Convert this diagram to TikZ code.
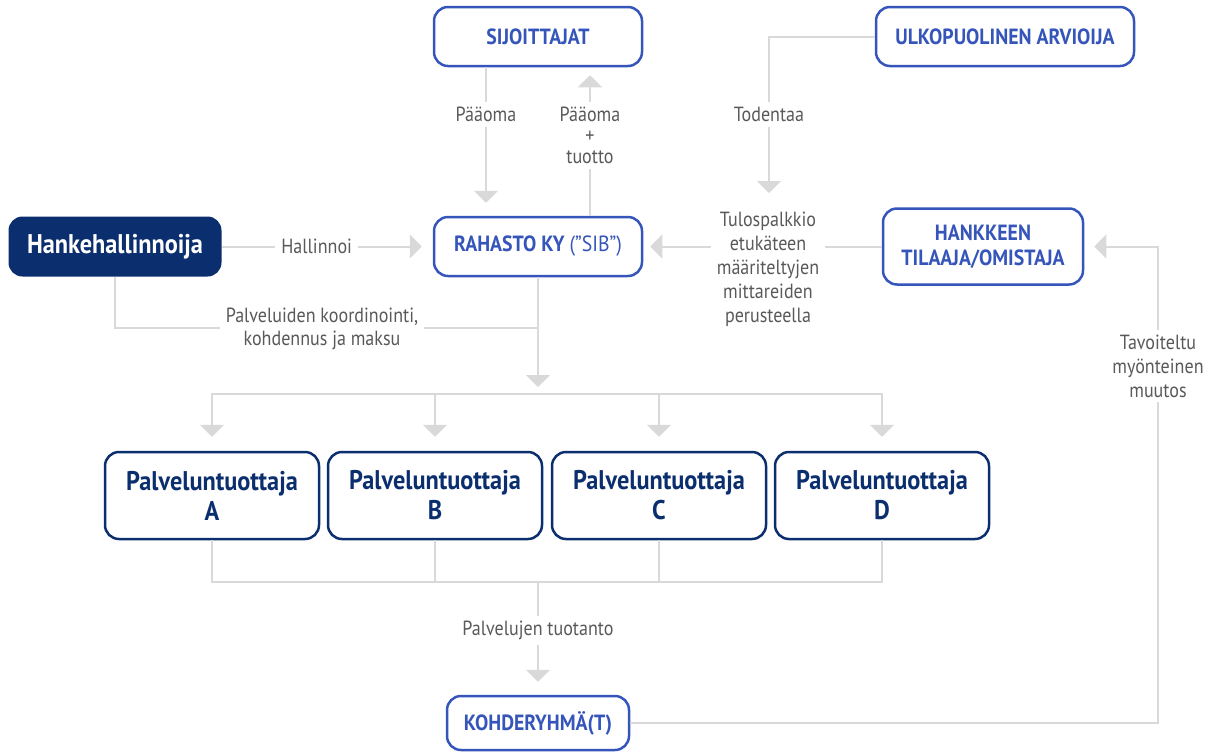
\documentclass[tikz,border=0pt]{standalone}
\usepackage{fontspec}
\setmainfont{PT Sans}[FakeStretch=0.88]
\newfontfamily\bfam{PT Sans}[FakeStretch=0.9]
\usetikzlibrary{arrows.meta}
\definecolor{bl}{HTML}{3555BA}
\definecolor{nv}{HTML}{0B2F6E}
\definecolor{ln}{HTML}{D9D9D9}
\definecolor{tx}{HTML}{595959}
\tikzset{
 bluebox/.style={draw=bl, line width=2.5pt, rounded corners=14pt, fill=white, text=bl, font=\bfam\fontsize{22}{25}\selectfont\bfseries, align=center, inner sep=0pt},
 navybox/.style={draw=nv, line width=2.5pt, rounded corners=14pt, fill=white, text=nv, font=\bfam\fontsize{27}{30}\selectfont\bfseries, align=center, inner sep=0pt, minimum width=214pt, minimum height=87pt},
 darkbox/.style={fill=nv, rounded corners=14pt, text=white, font=\bfam\fontsize{27}{30}\selectfont\bfseries, inner sep=0pt},
 conn/.style={draw=ln, line width=2pt},
 arr/.style={-{Triangle[width=24pt,length=12pt]}},
 lbl/.style={fill=white, text=tx, font=\fontsize{20.5}{24}\selectfont, align=center, inner xsep=6pt, inner ysep=5pt},
}
\begin{document}
\begin{tikzpicture}[x=1pt,y=-1pt]
\useasboundingbox (0,0) rectangle (1213,753);
% nodes
\node[darkbox, minimum width=213pt, minimum height=60pt] (hh) at (115,246.5) {Hankehallinnoija};
\node[bluebox, minimum width=208pt, minimum height=59pt] (rah) at (538,246.5) {RAHASTO KY {\mdseries(”SIB”)}};
\node[bluebox, minimum width=208pt, minimum height=59pt] (sij) at (538,36.5) {SIJOITTAJAT};
\node[bluebox, minimum width=258pt, minimum height=59pt] (ulk) at (1005,36.5) {ULKOPUOLINEN ARVIOIJA};
\node[bluebox, minimum width=200pt, minimum height=76pt] (han) at (983,246.5) {HANKKEEN\\TILAAJA/OMISTAJA};
\node[navybox] (pA) at (212,495.5) {Palveluntuottaja\\A};
\node[navybox] (pB) at (435,495.5) {Palveluntuottaja\\B};
\node[navybox] (pC) at (659,495.5) {Palveluntuottaja\\C};
\node[navybox] (pD) at (882,495.5) {Palveluntuottaja\\D};
\node[bluebox, minimum width=182pt, minimum height=54pt] (koh) at (538,723) {KOHDERYHMÄ(T)};
% helper coordinates
\coordinate (x486) at (486,0);
\coordinate (x590) at (590,0);
\coordinate (tdn) at (769,193);
\coordinate (rt) at (1158,246.5);
\coordinate (coor) at (538,328);
\coordinate (busT) at (538,394);
\coordinate (busB) at (538,582);
% connectors
\draw[conn,arr,shorten >=11pt] (hh) -- node[lbl,pos=0.45] (lhal) {Hallinnoi} (rah);
\draw[conn,arr,shorten >=13pt] (sij.south -| x486) -- node[lbl,pos=0.32] (lpa) {Pääoma} (rah.north -| x486);
\draw[conn,arr,shorten >=8pt] (rah.north -| x590) -- node[lbl,pos=0.54,font=\fontsize{20.5}{21}\selectfont] (lpt) {Pääoma\\+\\tuotto} (sij.south -| x590);
\draw[conn,arr] (ulk.west) -| node[lbl,pos=0.75] (ltod) {Todentaa} (tdn);
\draw[conn,arr,shorten >=7pt] (han) -- (rah);
\node[lbl] (tul) at (768,269) {Tulospalkkio\\etukäteen\\määriteltyjen\\mittareiden\\perusteella};
\draw[conn,arr,shorten >=10pt] (koh.east) -| (rt) -- (han.east);
\node[lbl] (ltav) at (1158,366) {Tavoiteltu\\myönteinen\\muutos};
\draw[conn] (hh.south) |- (coor);
\node[lbl,font=\fontsize{20.5}{23}\selectfont] (lpk) at (322,328.5) {Palveluiden koordinointi,\\kohdennus ja maksu};
\draw[conn,arr,shorten >=7pt] (rah.south) -- (busT);
\draw[conn,line cap=rect] (pA.north |- busT) -- (pD.north |- busT);
\foreach \n in {pA,pB,pC,pD} {
  \draw[conn,arr,shorten >=14pt] (\n.north |- busT) -- (\n.north);
  \draw[conn] (\n.south) -- (\n.south |- busB);
}
\draw[conn,line cap=rect] (pA.south |- busB) -- (pD.south |- busB);
\draw[conn,arr,shorten >=13pt] (busB) -- node[lbl,pos=0.43] (lpal) {Palvelujen tuotanto} (koh.north);
\end{tikzpicture}
\end{document}
